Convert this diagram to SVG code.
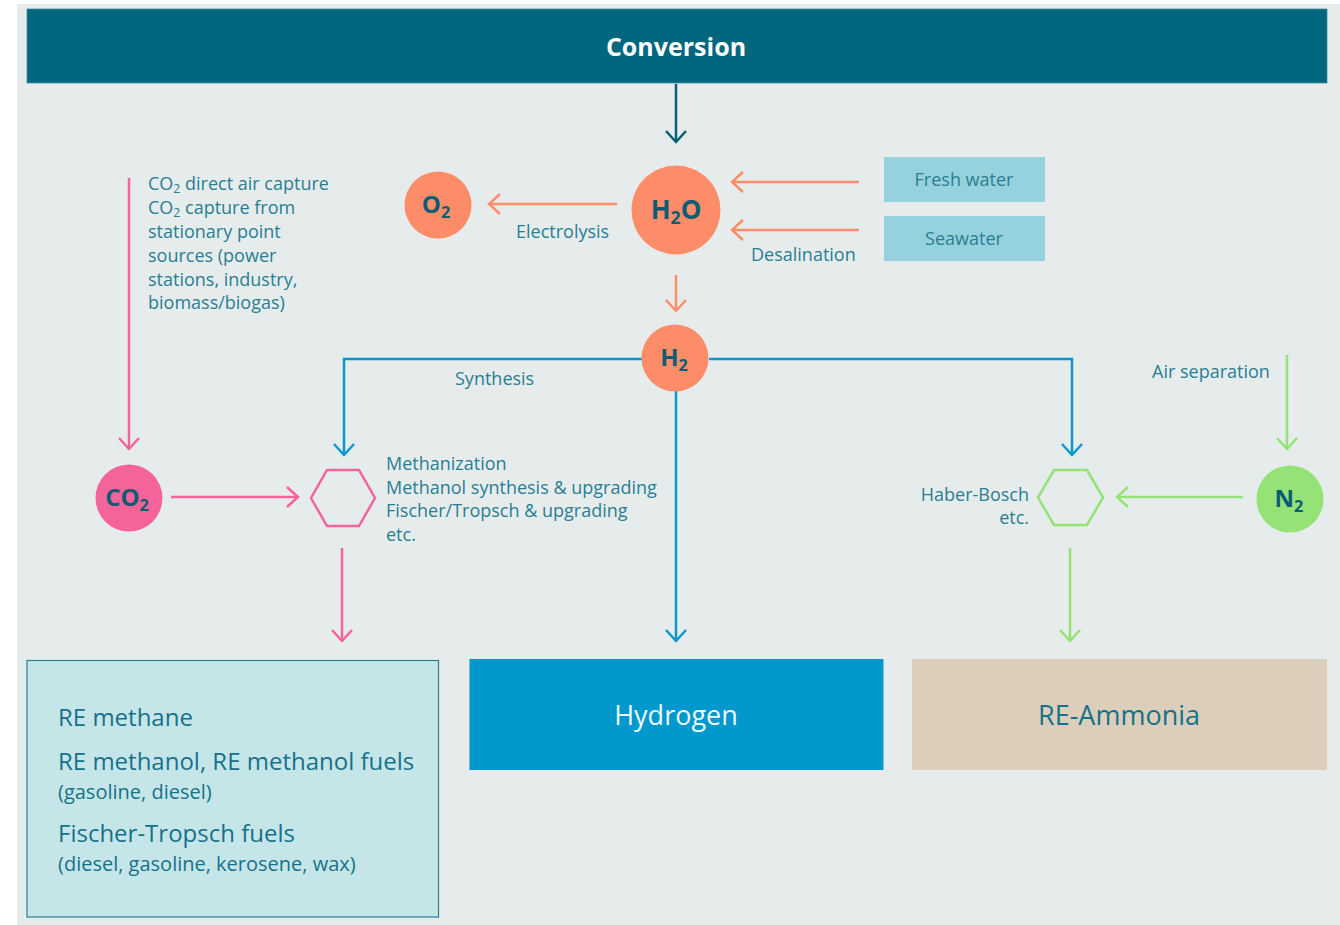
<svg xmlns="http://www.w3.org/2000/svg" width="1340" height="925" viewBox="0 0 1340 925">
<defs>
<style>
.lbl{font-family:"Open Sans","Noto Sans",sans-serif;font-size:18px;fill:#2a7e94}
.big{font-family:"Open Sans","Noto Sans",sans-serif;font-size:24px;fill:#17718a}
.sm{font-family:"Open Sans","Noto Sans",sans-serif;font-size:20px;fill:#17718a}
.node{font-family:"Open Sans","Noto Sans",sans-serif;font-weight:bold;fill:#0b5d73;text-anchor:middle}
.sub{font-size:68%}
.ln{fill:none;stroke-width:2.5}
.salmon{stroke:#fd8c68}
.blue{stroke:#0a97cc}
.pink{stroke:#f4649a}
.green{stroke:#95e277}
.dark{stroke:#0b5d73}
</style>
<marker id="aS" viewBox="0 0 14 22" refX="12" refY="11" markerWidth="14" markerHeight="22" markerUnits="userSpaceOnUse" orient="auto"><path d="M1,1 L12,11 L1,21" fill="none" stroke="#fd8c68" stroke-width="2.5"/></marker>
<marker id="aB" viewBox="0 0 14 22" refX="12" refY="11" markerWidth="14" markerHeight="22" markerUnits="userSpaceOnUse" orient="auto"><path d="M1,1 L12,11 L1,21" fill="none" stroke="#0a97cc" stroke-width="2.5"/></marker>
<marker id="aP" viewBox="0 0 14 22" refX="12" refY="11" markerWidth="14" markerHeight="22" markerUnits="userSpaceOnUse" orient="auto"><path d="M1,1 L12,11 L1,21" fill="none" stroke="#f4649a" stroke-width="2.5"/></marker>
<marker id="aG" viewBox="0 0 14 22" refX="12" refY="11" markerWidth="14" markerHeight="22" markerUnits="userSpaceOnUse" orient="auto"><path d="M1,1 L12,11 L1,21" fill="none" stroke="#95e277" stroke-width="2.5"/></marker>
<marker id="aD" viewBox="0 0 14 22" refX="12" refY="11" markerWidth="14" markerHeight="22" markerUnits="userSpaceOnUse" orient="auto"><path d="M1,1 L12,11 L1,21" fill="none" stroke="#0b5d73" stroke-width="2.5"/></marker>
</defs>
<rect x="0" y="0" width="1340" height="925" fill="#ffffff"/>
<rect x="17" y="4" width="1323" height="921" fill="#e6ecec"/>

<g id="header">
<rect x="27" y="9" width="1300" height="74" fill="#00677f" stroke="#3b8fa0" stroke-width="0.8"/>
<text x="676" y="56" text-anchor="middle" font-family="Open Sans, Noto Sans, sans-serif" font-weight="bold" font-size="25" fill="#ffffff">Conversion</text>
</g>

<g id="connectors">
<line class="ln dark" x1="676" y1="84" x2="676" y2="142" marker-end="url(#aD)"/>
<line class="ln salmon" x1="617" y1="204" x2="489" y2="204" marker-end="url(#aS)"/>
<line class="ln salmon" x1="859" y1="182" x2="732" y2="182" marker-end="url(#aS)"/>
<line class="ln salmon" x1="859" y1="230" x2="732" y2="230" marker-end="url(#aS)"/>
<line class="ln salmon" x1="676" y1="275" x2="676" y2="311" marker-end="url(#aS)"/>
<polyline class="ln blue" points="642,359 344,359 344,455" marker-end="url(#aB)"/>
<polyline class="ln blue" points="709,359 1072,359 1072,455" marker-end="url(#aB)"/>
<line class="ln blue" x1="676" y1="391" x2="676" y2="641" marker-end="url(#aB)"/>
<line class="ln pink" x1="129" y1="178" x2="129" y2="449" marker-end="url(#aP)"/>
<line class="ln pink" x1="171" y1="497" x2="298" y2="497" marker-end="url(#aP)"/>
<line class="ln pink" x1="342" y1="548" x2="342" y2="641" marker-end="url(#aP)"/>
<line class="ln green" x1="1287" y1="355" x2="1287" y2="449" marker-end="url(#aG)"/>
<line class="ln green" x1="1243" y1="497" x2="1117" y2="497" marker-end="url(#aG)"/>
<line class="ln green" x1="1070" y1="548" x2="1070" y2="641" marker-end="url(#aG)"/>
</g>

<g id="label-electrolysis"><text class="lbl" x="516" y="238">Electrolysis</text></g>
<g id="label-desalination"><text class="lbl" x="751" y="261">Desalination</text></g>
<g id="label-synthesis"><text class="lbl" x="455" y="385">Synthesis</text></g>
<g id="label-air"><text class="lbl" x="1152" y="378">Air separation</text></g>
<g id="label-co2sources">
<text class="lbl" x="148" y="190">CO<tspan class="sub" dy="3">2</tspan><tspan dy="-3"> direct air capture</tspan></text>
<text class="lbl" x="148" y="214">CO<tspan class="sub" dy="3">2</tspan><tspan dy="-3"> capture from</tspan></text>
<text class="lbl" x="148" y="238">stationary point</text>
<text class="lbl" x="148" y="262">sources (power</text>
<text class="lbl" x="148" y="286">stations, industry,</text>
<text class="lbl" x="148" y="309">biomass/biogas)</text>
</g>

<g id="node-o2">
<circle cx="438" cy="205" r="33.5" fill="#fd8c68"/>
<text class="node" x="436" y="213" font-size="24">O<tspan class="sub" dy="5">2</tspan></text>
</g>
<g id="node-h2o">
<circle cx="676" cy="210" r="44.5" fill="#fd8c68"/>
<text class="node" x="676" y="219" font-size="26">H<tspan class="sub" dy="5">2</tspan><tspan dy="-5">O</tspan></text>
</g>
<g id="node-freshwater">
<rect x="884" y="157" width="161" height="45" fill="#96d2dd"/>
<text class="lbl" x="964" y="186" text-anchor="middle">Fresh water</text>
</g>
<g id="node-seawater">
<rect x="884" y="216" width="161" height="45" fill="#96d2dd"/>
<text class="lbl" x="964" y="245" text-anchor="middle">Seawater</text>
</g>
<g id="node-h2">
<circle cx="675" cy="358" r="33.5" fill="#fd8c68"/>
<text class="node" x="674" y="366" font-size="24">H<tspan class="sub" dy="5">2</tspan></text>
</g>
<g id="node-co2">
<circle cx="129" cy="498" r="33.5" fill="#f4649a"/>
<text class="node" x="127" y="506" font-size="24">CO<tspan class="sub" dy="5">2</tspan></text>
</g>
<g id="node-n2">
<circle cx="1290" cy="499" r="33.5" fill="#95e277"/>
<text class="node" x="1289" y="507" font-size="24">N<tspan class="sub" dy="5">2</tspan></text>
</g>
<g id="node-hex-pink">
<polygon points="311,498 327,470 359,470 375,498 359,526 327,526" fill="none" stroke="#f4649a" stroke-width="2.5"/>
<text class="lbl" x="386" y="470">Methanization</text>
<text class="lbl" x="386" y="494">Methanol synthesis &amp; upgrading</text>
<text class="lbl" x="386" y="517">Fischer/Tropsch &amp; upgrading</text>
<text class="lbl" x="386" y="541">etc.</text>
</g>
<g id="node-hex-green">
<polygon points="1038,497.5 1054,470 1087,470 1103,497.5 1087,525 1054,525" fill="none" stroke="#95e277" stroke-width="2.5"/>
<text class="lbl" x="1029" y="501" text-anchor="end">Haber-Bosch</text>
<text class="lbl" x="1029" y="524" text-anchor="end">etc.</text>
</g>
<g id="node-fuels">
<rect x="27" y="660.5" width="411.5" height="256.5" fill="#c5e6e8" stroke="#2d7f92" stroke-width="1.2"/>
<text class="big" x="58" y="726">RE methane</text>
<text class="big" x="58" y="770">RE methanol, RE methanol fuels</text>
<text class="sm" x="58" y="799">(gasoline, diesel)</text>
<text class="big" x="58" y="842">Fischer-Tropsch fuels</text>
<text class="sm" x="58" y="871">(diesel, gasoline, kerosene, wax)</text>
</g>
<g id="node-hydrogen">
<rect x="469.5" y="659" width="414" height="111" fill="#0098cd"/>
<text x="676" y="725" text-anchor="middle" font-family="Open Sans, Noto Sans, sans-serif" font-size="27" fill="#eef7fb">Hydrogen</text>
</g>
<g id="node-ammonia">
<rect x="912" y="659" width="415" height="111" fill="#dbcfbb"/>
<text x="1119" y="725" text-anchor="middle" font-family="Open Sans, Noto Sans, sans-serif" font-size="27" fill="#17718a">RE-Ammonia</text>
</g>
</svg>
